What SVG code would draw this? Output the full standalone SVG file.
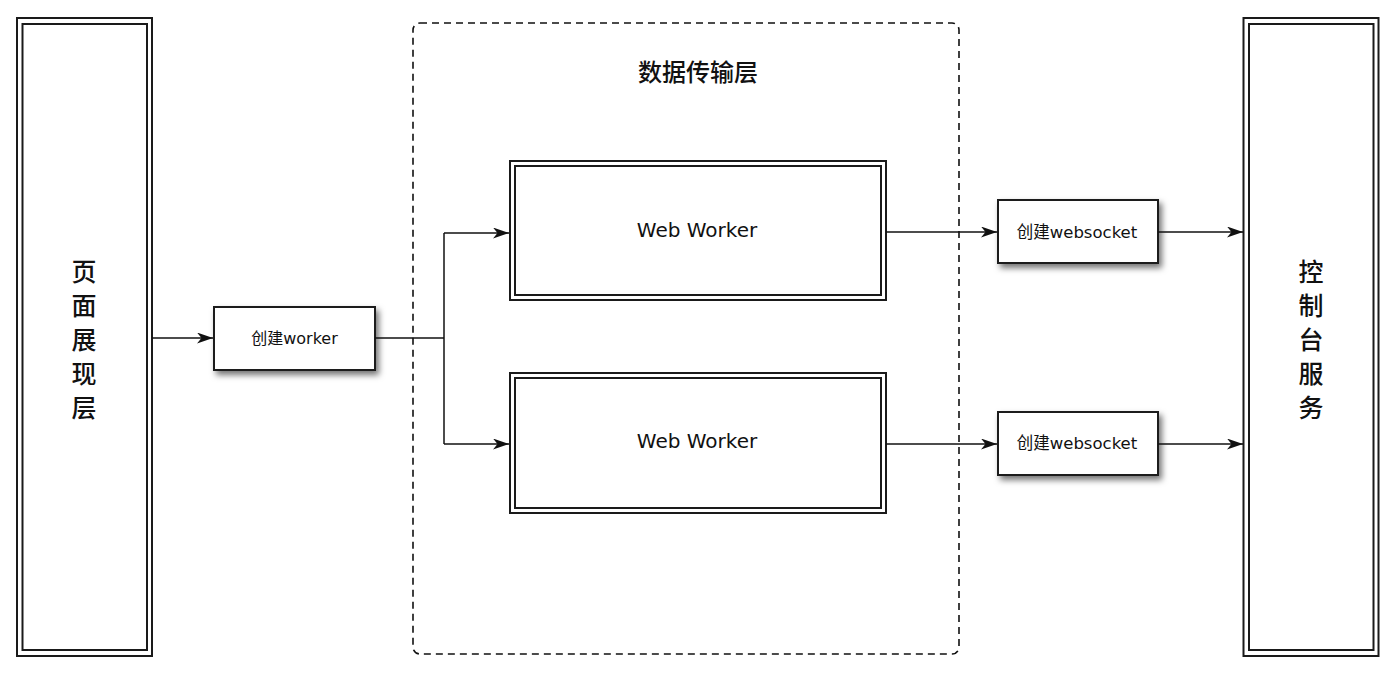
<svg xmlns="http://www.w3.org/2000/svg" width="1400" height="675" viewBox="0 0 1400 675">
<style>
.dbl{fill:none;stroke:#1a1a1a;stroke-width:2}
.box{fill:#fff;stroke:#1a1a1a;stroke-width:2}
.ln{fill:none;stroke:#111;stroke-width:1.5}
.t{font-family:"DejaVu Sans","Noto Sans CJK SC",sans-serif;fill:#111;text-anchor:middle}
.cjk{font-family:"Noto Sans CJK SC","DejaVu Sans",sans-serif;fill:#111;text-anchor:middle;font-weight:500}
</style>
<defs>
<marker id="arr" markerWidth="17" markerHeight="12" refX="16" refY="5.5" orient="auto" markerUnits="userSpaceOnUse">
<path d="M0,0 L16,5.5 L0,11 L4.5,5.5 Z" fill="#111"/>
</marker>
<filter id="sh" x="-20%" y="-20%" width="150%" height="160%">
<feDropShadow dx="3" dy="4" stdDeviation="3" flood-color="#000" flood-opacity="0.55"/>
</filter>
</defs>
<rect width="1400" height="675" fill="#fff"/>
<g id="container">
<rect x="413" y="23" width="546" height="631" rx="7" fill="none" stroke="#111" stroke-width="1.6" stroke-dasharray="7,5"/>
<text class="cjk" x="698" y="81" font-size="24">数据传输层</text>
</g>
<g id="page">
<rect class="dbl" x="17" y="18" width="135" height="638"/>
<rect class="dbl" x="22.5" y="24" width="124.5" height="626"/>
<text class="cjk" font-size="25"><tspan x="84" y="281">页</tspan><tspan x="84" y="315">面</tspan><tspan x="84" y="349">展</tspan><tspan x="84" y="383">现</tspan><tspan x="84" y="417">层</tspan></text>
</g>
<g id="console">
<rect class="dbl" x="1243.5" y="18" width="135" height="638"/>
<rect class="dbl" x="1249" y="24" width="124.5" height="626"/>
<text class="cjk" font-size="25"><tspan x="1311" y="281">控</tspan><tspan x="1311" y="315">制</tspan><tspan x="1311" y="349">台</tspan><tspan x="1311" y="383">服</tspan><tspan x="1311" y="417">务</tspan></text>
</g>
<g id="createWorker">
<rect class="box" x="214" y="307" width="161" height="63" filter="url(#sh)"/>
<text class="t" x="294.5" y="344" font-size="16">创建worker</text>
</g>
<g id="ww1">
<rect class="dbl" x="510" y="161" width="376" height="139"/>
<rect class="dbl" x="515" y="166" width="366" height="129"/>
<text class="t" x="697" y="237" font-size="20">Web Worker</text>
</g>
<g id="ww2">
<rect class="dbl" x="510" y="373" width="376" height="140"/>
<rect class="dbl" x="515" y="378" width="366" height="130"/>
<text class="t" x="697" y="448" font-size="20">Web Worker</text>
</g>
<g id="ws1">
<rect class="box" x="998" y="200" width="160" height="63" filter="url(#sh)"/>
<text class="t" x="1077" y="238" font-size="16.5">创建websocket</text>
</g>
<g id="ws2">
<rect class="box" x="998" y="412" width="160" height="63" filter="url(#sh)"/>
<text class="t" x="1077" y="449" font-size="16.5">创建websocket</text>
</g>
<g id="connectors">
<path class="ln" d="M152,338 H213" marker-end="url(#arr)"/>
<path class="ln" d="M375,338 H444"/>
<path class="ln" d="M444,233 V444"/>
<path class="ln" d="M444,233 H509" marker-end="url(#arr)"/>
<path class="ln" d="M444,444 H509" marker-end="url(#arr)"/>
<path class="ln" d="M886,232 H997" marker-end="url(#arr)"/>
<path class="ln" d="M886,444 H997" marker-end="url(#arr)"/>
<path class="ln" d="M1158,232 H1243" marker-end="url(#arr)"/>
<path class="ln" d="M1158,444 H1243" marker-end="url(#arr)"/>
</g>
</svg>
